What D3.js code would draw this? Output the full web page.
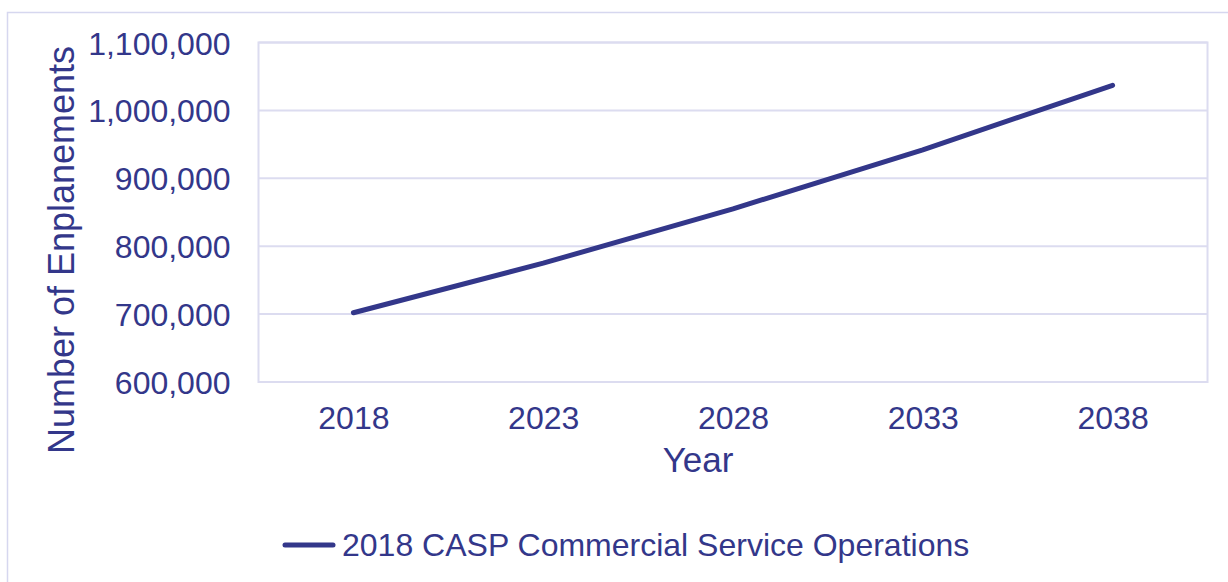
<!DOCTYPE html>
<html>
<head>
<meta charset="utf-8">
<script src="https://cdn.jsdelivr.net/npm/d3@7"></script>
<style>
    body { margin: 0; background: #fff; }
    svg text { font-family: "Liberation Sans", Arial, sans-serif; fill: #33378a; }
</style>
</head>
<body>
<div id="chart"></div>
<script>
// data
const years = ["2018", "2023", "2028", "2033", "2038"];
const enplanements = [702000, 775000, 855000, 942000, 1037000];
const yTicks = [600000, 700000, 800000, 900000, 1000000, 1100000];
const seriesName = "2018 CASP Commercial Service Operations";

const ink = "#33378a";
const gridColor = "#dcdcf0";

const width = 1228, height = 582;
const margin = {top: 42.5, right: 20.5, bottom: 200, left: 258.5};
const plotW = 1207.5 - margin.left;
const plotH = 382 - margin.top;

const svg = d3.select("#chart").append("svg")
    .attr("width", width)
    .attr("height", height);

// outer chart border
svg.append("rect")
    .attr("x", 7.5)
    .attr("y", 12.5)
    .attr("width", width + 20)
    .attr("height", height + 20)
    .attr("fill", "none")
    .attr("stroke", "#d6d7ef")
    .attr("stroke-width", 1.5);

const g = svg.append("g")
    .attr("transform", `translate(${margin.left}, ${margin.top})`);

// scales
const x = d3.scalePoint()
    .domain(years)
    .range([0, plotW])
    .padding(0.5);

const y = d3.scaleLinear()
    .domain([600000, 1100000])
    .range([plotH, 0]);

// gridlines
g.selectAll(".grid")
    .data(yTicks)
    .join("line")
    .attr("class", "grid")
    .attr("x1", 0)
    .attr("x2", plotW)
    .attr("y1", d => y(d))
    .attr("y2", d => y(d))
    .attr("stroke", gridColor)
    .attr("stroke-width", 2);

// plot border
g.append("rect")
    .attr("width", plotW)
    .attr("height", plotH)
    .attr("fill", "none")
    .attr("stroke", gridColor)
    .attr("stroke-width", 2);

// y axis
const yAxis = d3.axisLeft(y)
    .tickValues(yTicks)
    .tickFormat(d3.format(","))
    .tickSize(0)
    .tickPadding(28);

g.append("g")
    .attr("class", "y-axis")
    .call(yAxis)
    .call(a => a.select(".domain").remove())
    .selectAll("text")
    .attr("font-size", "32px")
    .attr("dy", "0.36em")
    .style("fill", ink);

// x axis
const xAxis = d3.axisBottom(x)
    .tickSize(0)
    .tickPadding(24);

g.append("g")
    .attr("class", "x-axis")
    .attr("transform", `translate(0, ${plotH})`)
    .call(xAxis)
    .call(a => a.select(".domain").remove())
    .selectAll("text")
    .attr("font-size", "32px")
    .style("fill", ink);

// axis titles
svg.append("text")
    .attr("x", 698)
    .attr("y", 472)
    .attr("text-anchor", "middle")
    .attr("font-size", "35px")
    .text("Year");

svg.append("text")
    .attr("transform", `translate(74, 250) rotate(-90)`)
    .attr("text-anchor", "middle")
    .attr("font-size", "36px")
    .text("Number of Enplanements");

// line
const line = d3.line()
    .x((d, i) => x(years[i]))
    .y(d => y(d));

g.append("path")
    .datum(enplanements)
    .attr("d", line)
    .attr("fill", "none")
    .attr("stroke", ink)
    .attr("stroke-width", 5)
    .attr("stroke-linecap", "round")
    .attr("stroke-linejoin", "round");

// legend
const legend = svg.append("g")
    .attr("transform", "translate(285, 545)");

legend.append("line")
    .attr("x1", 0)
    .attr("x2", 48)
    .attr("stroke", ink)
    .attr("stroke-width", 5)
    .attr("stroke-linecap", "round");

legend.append("text")
    .attr("x", 57)
    .attr("y", 11)
    .attr("font-size", "32px")
    .text(seriesName);
</script>
</body>
</html>
